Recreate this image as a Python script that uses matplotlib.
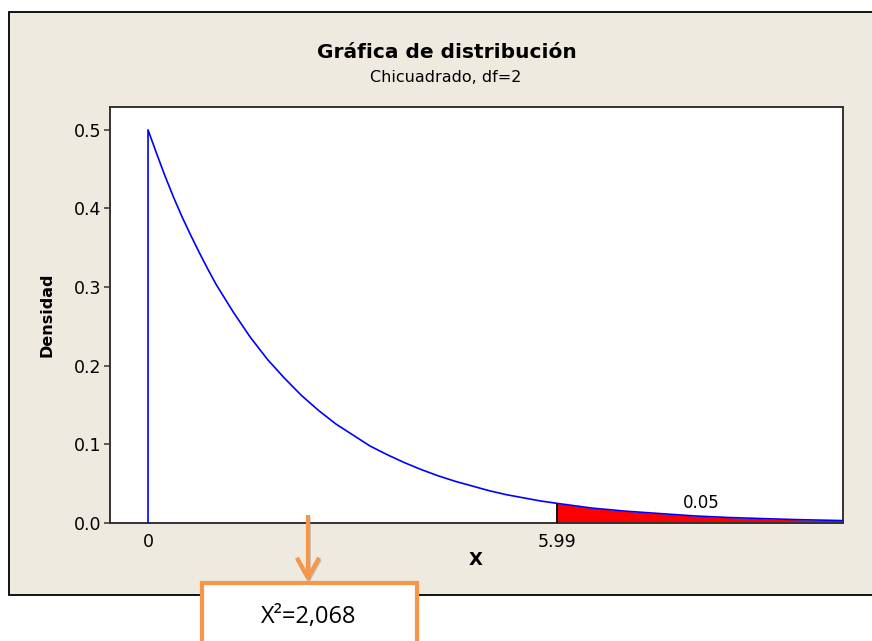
import numpy as np
import matplotlib.pyplot as plt
import matplotlib.patheffects as pe
from matplotlib.patches import Rectangle, FancyArrowPatch

# Curva de densidad chi-cuadrado (df=2)
dens_x = [0, 0.125, 0.25, 0.375, 0.5, 0.625, 0.75, 0.875, 1, 1.25, 1.5, 1.75,
          2, 2.25, 2.5, 2.75, 3, 3.25, 3.5, 3.75, 4, 4.25, 4.5, 4.75,
          5, 5.25, 5.5, 5.75, 5.99, 6.5, 7, 7.5, 8, 8.5, 9, 9.5, 10, 10.2]
dens_y = [0.5, 0.470, 0.441, 0.414, 0.389, 0.366, 0.344, 0.323, 0.303, 0.268,
          0.236, 0.208, 0.184, 0.162, 0.143, 0.126, 0.112, 0.098, 0.087, 0.077,
          0.068, 0.060, 0.053, 0.047, 0.041, 0.036, 0.032, 0.028, 0.025, 0.019,
          0.015, 0.012, 0.009, 0.007, 0.0056, 0.0043, 0.0034, 0.003]
valor_critico = 5.99
area_cola = "0.05"
x_ticks = [0, 5.99]
x_ticklabels = ["0", "5.99"]
y_ticks = [0.0, 0.1, 0.2, 0.3, 0.4, 0.5]
titulo = "Gráfica de distribución"
subtitulo = "Chicuadrado, df=2"
texto_caja = "X²=2,068"

naranja = '#F79646'
beige = '#EEEAE0'
gris = '#333333'

plt.rcParams['font.family'] = ['DejaVu Sans']

fig = plt.figure(figsize=(8.72, 6.41), dpi=100)
fig.patch.set_facecolor('white')

# panel beige de fondo
fig.patches.append(Rectangle((9 / 872, 1 - 595 / 641), 1.0, (595 - 12) / 641,
                             transform=fig.transFigure, facecolor=beige,
                             edgecolor='black', lw=1.3, zorder=-5))

ax = fig.add_axes([110 / 872, 1 - 523 / 641, (843 - 110) / 872, (523 - 107) / 641])
ax.set_zorder(1)
ax.set_facecolor('white')

x = np.array(dens_x)
y = np.array(dens_y)
cola = x >= valor_critico
ax.fill_between(x[cola], 0, y[cola], color='red', lw=0, zorder=2)
ax.vlines(valor_critico, 0, y[cola][0], color='black', lw=1.3, zorder=3)
ax.plot(np.r_[x[0], x], np.r_[0, y], color='#0000FF', lw=1.2, zorder=4)
ax.text(8.11, 0.0254, area_cola, ha='center', va='center', fontsize=12)

ax.set_xlim(-0.557, 10.18)
ax.set_ylim(0, 0.529)
ax.set_xticks(x_ticks)
ax.set_xticklabels(x_ticklabels)
ax.set_yticks(y_ticks)
ax.set_yticklabels([f'{v:.1f}' for v in y_ticks])
ax.tick_params(axis='x', length=0, pad=7, labelsize=12.5)
ax.tick_params(axis='y', length=4.5, width=1.1, color=gris, pad=2, labelsize=12.5)
for s in ax.spines.values():
    s.set_color(gris)
    s.set_linewidth(1.4)

fig.text(447 / 872, 1 - 53 / 641, titulo, ha='center', va='center',
         fontsize=14.5, fontweight='bold')
fig.text(446 / 872, 1 - 78 / 641, subtitulo, ha='center', va='center', fontsize=11.5)
fig.text(47 / 872, 1 - 315 / 641, 'Densidad', ha='center', va='center',
         rotation=90, fontsize=11.5, fontweight='bold')
fig.text(476 / 872, 1 - 560 / 641, 'X', ha='center', va='center',
         fontsize=13, fontweight='bold')

# caja naranja con el valor calculado
fig.patches.append(Rectangle((202 / 872, -0.1), (417 - 202) / 872, 0.1 + 1 - 583 / 641,
                             transform=fig.transFigure, facecolor='white',
                             edgecolor=naranja, lw=3, zorder=5))
fig.text(309 / 872, 1 - 617 / 641, texto_caja, ha='center', va='center',
         fontsize=17, family='Open Sans', zorder=6)

flecha = FancyArrowPatch((308 / 872, 1 - 515 / 641), (308 / 872, 1 - 582 / 641),
                         transform=fig.transFigure, arrowstyle='->, head_length=0.72, head_width=0.4',
                         mutation_scale=20, color=naranja, lw=3, capstyle='butt',
                         shrinkA=0, shrinkB=0, zorder=7)
flecha.set_path_effects([pe.SimpleLineShadow(offset=(0.5, -1.2), shadow_color='gray', alpha=0.4),
                         pe.Normal()])
fig.patches.append(flecha)

fig.savefig('out.png', dpi=100)
